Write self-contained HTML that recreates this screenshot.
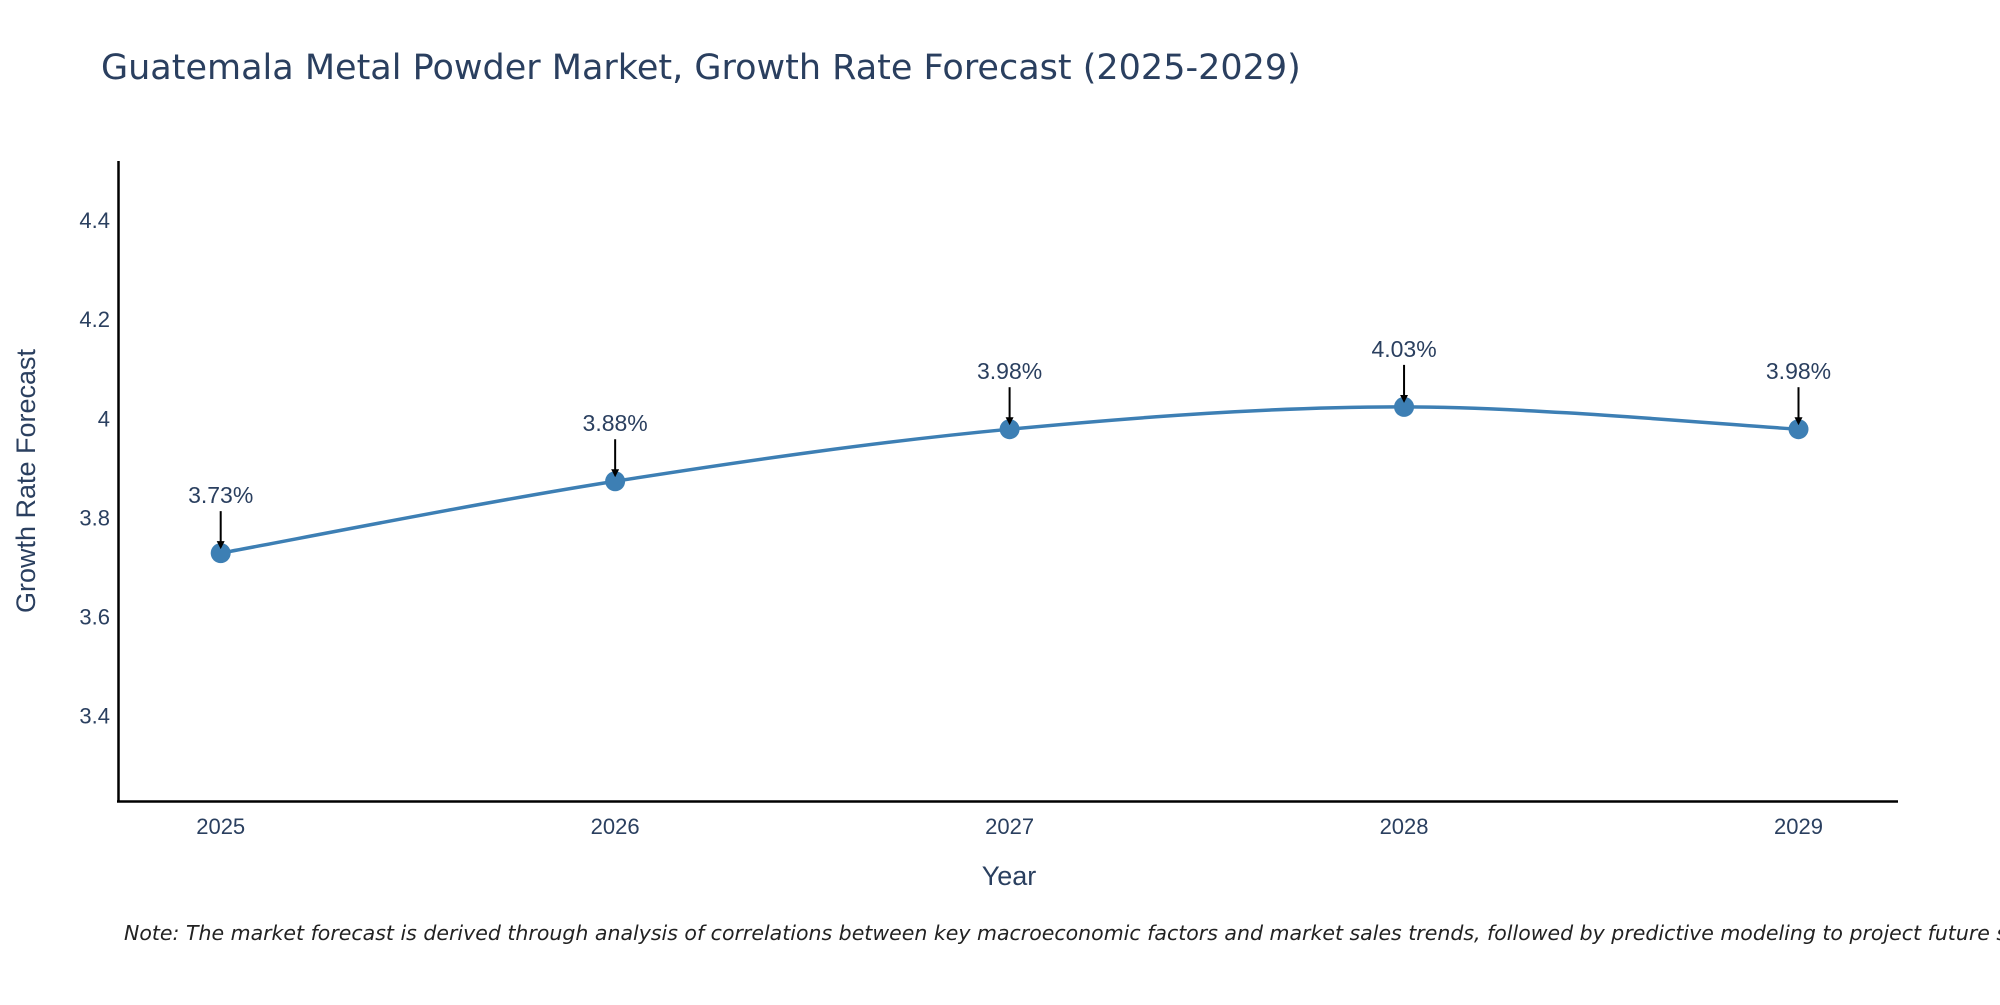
<!DOCTYPE html>
<html><head><meta charset="utf-8"><style>
body{margin:0;background:#fff;}
svg{font-family:"Liberation Sans",sans-serif;}
</style></head><body>
<svg id="chart" width="2000" height="1000" xmlns="http://www.w3.org/2000/svg">
<defs><marker id="ah" markerWidth="8" markerHeight="8" refX="6" refY="4" orient="auto" markerUnits="userSpaceOnUse" viewBox="0 0 8 8"><path d="M0,0 L8,4 L0,8 z" fill="#000"/></marker></defs>
<text x="101" y="79" font-size="35" fill="#2a3f5f" style="font-family:'DejaVu Sans',sans-serif">Guatemala Metal Powder Market, Growth Rate Forecast (2025-2029)</text>
<g id="yticks"></g><g id="xticks"></g>
<line x1="118.5" y1="161" x2="118.5" y2="802" stroke="#000" stroke-width="2.5"/>
<line x1="117" y1="801.5" x2="1898" y2="801.5" stroke="#000" stroke-width="2.5"/>
<path id="line" fill="none" stroke="#3d7fb4" stroke-width="3.5"/>
<g id="marks"></g>
<text x="35" y="481" font-size="27" fill="#2a3f5f" text-anchor="middle" transform="rotate(-90 35 481)">Growth Rate Forecast</text>
<text x="1009" y="885" font-size="27" fill="#2a3f5f" text-anchor="middle">Year</text>
<text x="124" y="940" font-size="20.5" font-style="italic" fill="#222" style="font-family:'DejaVu Sans',sans-serif">Note: The market forecast is derived through analysis of correlations between key macroeconomic factors and market sales trends, followed by predictive modeling to project future sales.</text>
</svg>
<script>
const years = ["2025","2026","2027","2028","2029"];
const values = [3.73, 3.875, 3.98, 4.025, 3.98];
const labels = ["3.73%","3.88%","3.98%","4.03%","3.98%"];
const yTicks = [3.4, 3.6, 3.8, 4, 4.2, 4.4];
const tickText = ["3.4","3.6","3.8","4","4.2","4.4"];
const NS="http://www.w3.org/2000/svg";
const yMin=3.23,yMax=4.521,yTop=161,yBot=801;
function ys(v){return yBot-(v-yMin)/(yMax-yMin)*(yBot-yTop);}
function xs(i){return 220.7+i*(1798.5-220.7)/(years.length-1);}
function mk(t,a,p){const e=document.createElementNS(NS,t);for(const k in a)e.setAttribute(k,a[k]);p.appendChild(e);return e;}
const yt=document.getElementById('yticks');
yTicks.forEach((v,i)=>{const t=mk('text',{x:110,y:ys(v)+7,'font-size':22,fill:'#2a3f5f','text-anchor':'end'},yt);t.textContent=tickText[i];

});
const xt=document.getElementById('xticks');
years.forEach((y,i)=>{const t=mk('text',{x:xs(i),y:834,'font-size':22,fill:'#2a3f5f','text-anchor':'middle'},xt);t.textContent=y;

});
const P=values.map((v,i)=>[xs(i),ys(v)]);
let d=`M${P[0][0]},${P[0][1]}`;
for(let i=0;i<P.length-1;i++){const p0=P[Math.max(0,i-1)],p1=P[i],p2=P[i+1],p3=P[Math.min(P.length-1,i+2)];const s=1/6;
d+=` C${p1[0]+(p2[0]-p0[0])*s},${p1[1]+(p2[1]-p0[1])*s} ${p2[0]-(p3[0]-p1[0])*s},${p2[1]-(p3[1]-p1[1])*s} ${p2[0]},${p2[1]}`;}
document.getElementById('line').setAttribute('d',d);
const g=document.getElementById('marks');
P.forEach((p,i)=>{const c=mk('circle',{cx:p[0],cy:p[1],r:10,fill:'#3d7fb4'},g);


const a=mk('line',{x1:p[0],y1:p[1]-42,x2:p[0],y2:p[1]-6,stroke:'#000','stroke-width':2,'marker-end':'url(#ah)'},g);


const t=mk('text',{x:p[0],y:p[1]-50,'font-size':23,fill:'#2a3f5f','text-anchor':'middle'},g);t.textContent=labels[i];

});
</script>
</body></html>
